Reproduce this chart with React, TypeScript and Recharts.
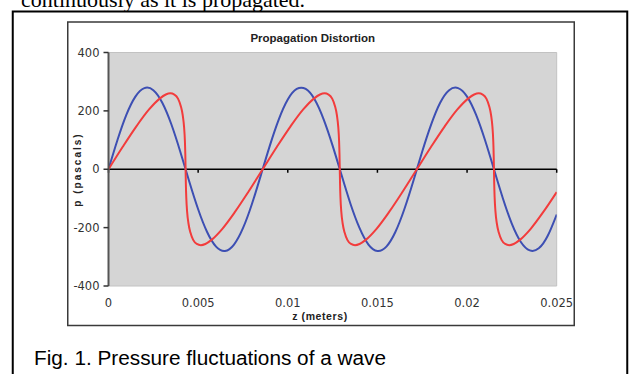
import React from "react";
import {
  LineChart,
  Line,
  XAxis,
  YAxis,
  ReferenceArea,
  ReferenceLine,
} from "recharts";

// ---- data ----
const xTicks = [0, 0.005, 0.01, 0.015, 0.02, 0.025];
const yTicks = [-400, -200, 0, 200, 400];

// original (undistorted) wave, blue
const zBlue = [
  0, 0.0005, 0.001, 0.0015, 0.002, 0.0025, 0.003, 0.0035, 0.004, 0.0045,
  0.005, 0.0055, 0.006, 0.0065, 0.007, 0.0075, 0.008, 0.0085, 0.009, 0.0095,
  0.01, 0.0105, 0.011, 0.0115, 0.012, 0.0125, 0.013, 0.0135, 0.014, 0.0145,
  0.015, 0.0155, 0.016, 0.0165, 0.017, 0.0175, 0.018, 0.0185, 0.019, 0.0195,
  0.02, 0.0205, 0.021, 0.0215, 0.022, 0.0225, 0.023, 0.0235, 0.024, 0.0245,
  0.025,
];
const pBlue = [
  0, 100, 187, 249, 278, 271, 228, 155, 61, -41,
  -137, -215, -265, -280, -258, -202, -119, -20, 81, 171,
  239, 275, 275, 239, 171, 81, -20, -119, -201, -258,
  -280, -265, -215, -137, -41, 61, 154, 228, 271, 278,
  249, 187, 100, 0, -100, -187, -249, -278, -271, -228,
  -155,
];

// distorted wave, red
const zRed = [
  0, 0.000795, 0.001555, 0.00225, 0.002854, 0.003197, 0.00345, 0.003675,
  0.003877, 0.00403, 0.004141, 0.004215, 0.00426, 0.004285, 0.0043, 0.004315,
  0.00434, 0.004385, 0.004459, 0.00457, 0.004723, 0.004925, 0.00515, 0.005403,
  0.005746, 0.00635, 0.007045, 0.007805,
  0.0086, 0.009395, 0.010155, 0.01085, 0.011454, 0.011797, 0.01205, 0.012275,
  0.012477, 0.01263, 0.012741, 0.012815, 0.01286, 0.012885, 0.0129, 0.012915,
  0.01294, 0.012985, 0.013059, 0.01317, 0.013323, 0.013525, 0.01375, 0.014003,
  0.014346, 0.01495, 0.015645, 0.016405,
  0.0172, 0.017995, 0.018755, 0.01945, 0.020054, 0.020397, 0.02065, 0.020875,
  0.021077, 0.02123, 0.021341, 0.021415, 0.02146, 0.021485, 0.0215, 0.021515,
  0.02154, 0.021585, 0.021659, 0.02177, 0.021923, 0.022125, 0.02235, 0.022603,
  0.022946, 0.02355, 0.024245, 0.025,
];
const pRed = [
  0, 77, 147, 204, 242, 256, 260, 256,
  242, 217, 185, 145, 99, 50, 0, -50,
  -99, -145, -185, -217, -242, -256, -260, -256,
  -242, -204, -147, -77,
  0, 77, 147, 204, 242, 256, 260, 256,
  242, 217, 185, 145, 99, 50, 0, -50,
  -99, -145, -185, -217, -242, -256, -260, -256,
  -242, -204, -147, -77,
  0, 77, 147, 204, 242, 256, 260, 256,
  242, 217, 185, 145, 99, 50, 0, -50,
  -99, -145, -185, -217, -242, -256, -260, -256,
  -242, -204, -147, -78,
];

const blueData = zBlue.map((z, i) => ({ z, p: pBlue[i] }));
const redData = zRed.map((z, i) => ({ z, p: pRed[i] }));

const W = 629;
const H = 374;

export default function App() {
  return (
    <div
      style={{
        position: "absolute",
        left: 0,
        top: 0,
        width: W,
        height: H,
        overflow: "hidden",
        background: "#fff",
      }}
    >
      <svg
        width={W}
        height={H}
        style={{ position: "absolute", left: 0, top: 0 }}
      >
        <text
          x={21}
          y={7}
          fontFamily="Liberation Serif"
          fontSize={22}
          fill="#000"
        >
          continuously as it is propagated.
        </text>
        <rect
          x={12.75}
          y={11.5}
          width={614.5}
          height={420}
          fill="#fff"
          stroke="#000"
          strokeWidth={2}
        />
        <rect
          x={67.75}
          y={22}
          width={506.5}
          height={303.5}
          fill="#fff"
          stroke="#3a3a3a"
          strokeWidth={1.5}
        />
        <text
          x={312.7}
          y={41.5}
          textAnchor="middle"
          fontFamily="Liberation Sans"
          fontWeight="bold"
          fontSize={11.5}
          fill="#222"
        >
          Propagation Distortion
        </text>
        <text
          x={0}
          y={0}
          transform="translate(80.5,169.5) rotate(-90)"
          textAnchor="middle"
          fontFamily="Liberation Sans"
          fontWeight="bold"
          fontSize={10}
          letterSpacing={2}
          fill="#222"
        >
          p (pascals)
        </text>
        <text
          x={320}
          y={320}
          textAnchor="middle"
          fontFamily="Liberation Sans"
          fontWeight="bold"
          fontSize={10.5}
          letterSpacing={0.6}
          fill="#222"
        >
          z (meters)
        </text>
        <text
          x={34}
          y={365}
          fontFamily="Liberation Sans"
          fontSize={20}
          textLength={352}
          lengthAdjust="spacingAndGlyphs"
          fill="#000"
        >
          Fig. 1. Pressure fluctuations of a wave
        </text>
      </svg>
      <div style={{ position: "absolute", left: 0, top: 0 }}>
        <LineChart
          width={W}
          height={H}
          margin={{ top: 52.5, right: 72.3, bottom: 58, left: 68.5 }}
        >
          <XAxis
            dataKey="z"
            type="number"
            domain={[0, 0.025]}
            ticks={xTicks}
            interval={0}
            height={30}
            axisLine={false}
            tickLine={false}
            tickSize={6}
            tickMargin={7}
            allowDataOverflow
            tick={{
              fill: "#333",
              fontSize: 11.5,
              fontFamily: "DejaVu Sans",
            }}
          />
          <YAxis
            dataKey="p"
            type="number"
            domain={[-400, 400]}
            ticks={yTicks}
            interval={0}
            width={40}
            axisLine={{ stroke: "#555", strokeWidth: 2 }}
            tickLine={{ stroke: "#333", strokeWidth: 1.5 }}
            tickSize={5}
            tickMargin={4}
            allowDataOverflow
            tick={{
              fill: "#333",
              fontSize: 11.5,
              fontFamily: "DejaVu Sans",
            }}
          />
          <ReferenceArea
            x1={0}
            x2={0.025}
            y1={-400}
            y2={400}
            fill="#d5d5d5"
            fillOpacity={1}
            stroke="#c2c2c2"
            strokeWidth={1}
          />
          <ReferenceLine y={0} stroke="#000" strokeWidth={1.5} />
          {xTicks.map((t) => (
            <ReferenceLine
              key={"t" + t}
              segment={[
                { x: t, y: 0 },
                { x: t, y: -12 },
              ]}
              stroke="#000"
              strokeWidth={1.5}
            />
          ))}
          <Line
            data={blueData}
            dataKey="p"
            type="natural"
            stroke="#3d4fb3"
            strokeWidth={2}
            dot={false}
            isAnimationActive={false}
          />
          <Line
            data={redData}
            dataKey="p"
            type="monotone"
            stroke="#f23c3c"
            strokeWidth={2}
            dot={false}
            isAnimationActive={false}
          />
        </LineChart>
      </div>
    </div>
  );
}
